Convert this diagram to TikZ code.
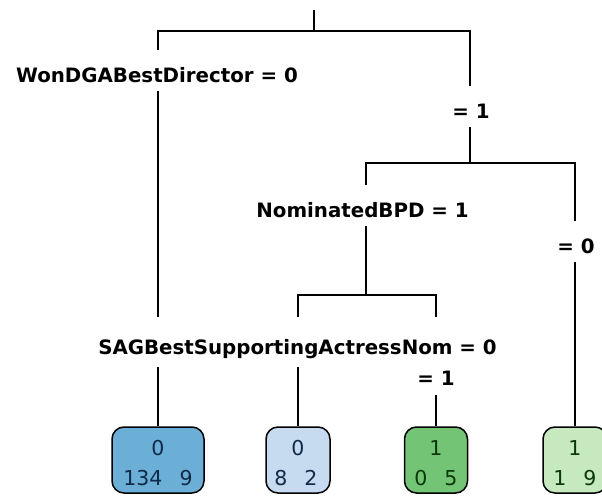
\documentclass[tikz,border=0pt]{standalone}
\usepackage{fontspec}
\setmainfont{DejaVu Sans}
\definecolor{leafA}{HTML}{6BAED6}
\definecolor{leafB}{HTML}{C6DBEF}
\definecolor{leafC}{HTML}{74C476}
\definecolor{leafD}{HTML}{C7E9C0}
\definecolor{txtBlue}{HTML}{102A48}
\definecolor{txtGreen}{HTML}{0A380A}
\begin{document}
\begin{tikzpicture}[x=1pt,y=-1pt,
  edge/.style={line width=2pt, line join=miter},
  splitlab/.style={fill=white, inner xsep=2pt, inner ysep=0pt, text height=32pt, text depth=9pt, anchor=base, font=\bfseries\fontsize{19.8}{22}\selectfont},
  leafbox/.style={draw, line width=1.5pt, rounded corners=12pt, minimum height=66pt, inner sep=0pt},
  leaftext/.style={anchor=base, inner sep=0pt, font=\fontsize{20.5}{22}\selectfont}]
\clip (0,0) rectangle (602,495);
\fill[white] (0,0) rectangle (602,495);
% split points
\coordinate (top) at (314,10);
\coordinate (s1) at (314,31);
\coordinate (s1l) at (158,31);
\coordinate (s1r) at (470,31);
\coordinate (s2) at (470,163);
\coordinate (s2l) at (366,163);
\coordinate (s2r) at (575,163);
\coordinate (s3) at (366,295);
\coordinate (s3l) at (298,295);
\coordinate (s3r) at (436,295);
% leaves
\node[leafbox, fill=leafA, minimum width=92pt] (l1) at (158,460) {};
\node[leafbox, fill=leafB, minimum width=64pt] (l2) at (298,460) {};
\node[leafbox, fill=leafC, minimum width=63pt] (l3) at (436,460) {};
\node[leafbox, fill=leafD, minimum width=64pt] (l4) at (575,460) {};
% edges
\draw[edge] (top) -- (s1);
\draw[edge] (l1.north) -- (s1l) -- (s1r) -- (s2);
\draw[edge] (s3) -- (s2l) -- (s2r) -- (l4.north);
\draw[edge] (l2.north) -- (s3l) -- (s3r) -- (l3.north);
% split labels
\node[splitlab] (lab1) at (157,82) {WonDGABestDirector = 0};
\node[splitlab] (lab2) at (471,118) {= 1};
\node[splitlab] (lab3) at (362.5,217) {NominatedBPD = 1};
\node[splitlab] (lab4) at (576,253) {= 0};
\node[splitlab, text height=37pt, text depth=13pt] (lab5) at (297.5,354) {SAGBestSupportingActressNom = 0};
\node[splitlab, text height=18pt, text depth=10pt] (lab6) at (436,385) {= 1};
% leaf texts
\node[leaftext, text=txtBlue] (l1a) at (158,455) {0};
\node[leaftext, text=txtBlue] (l1b) at (158,485) {134\hspace{17pt}9};
\node[leaftext, text=txtBlue] (l2a) at (298,455) {0};
\node[leaftext, text=txtBlue] (l2b) at (296,485) {8\hspace{17pt}2};
\node[leaftext, text=txtGreen] (l3a) at (436,455) {1};
\node[leaftext, text=txtGreen] (l3b) at (436,485) {0\hspace{17pt}5};
\node[leaftext, text=txtGreen] (l4a) at (575,455) {1};
\node[leaftext, text=txtGreen] (l4b) at (575,485) {1\hspace{17pt}9};
\end{tikzpicture}
\end{document}
